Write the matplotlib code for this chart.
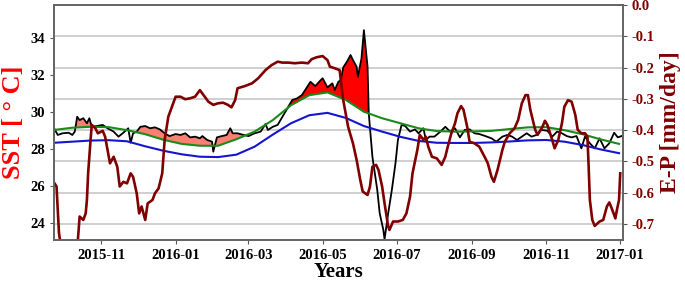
import numpy as np
import matplotlib
matplotlib.use("Agg")
import matplotlib.pyplot as plt
import matplotlib.dates as mdates
import matplotlib.ticker as mticker

plt.rcParams['font.family'] = ['Liberation Serif', 'DejaVu Serif']
plt.rcParams['font.weight'] = 'bold'

start = np.datetime64('2015-09-23')

# climatology (blue) and threshold (green), every 15 days from start
clim_day = np.arange(0, 466, 15)
clim_sst = [28.34, 28.40, 28.46, 28.48, 28.42, 28.15, 27.91, 27.72, 27.59, 27.57,
            27.70, 28.13, 28.78, 29.39, 29.82, 29.95, 29.68, 29.24, 28.94, 28.66,
            28.44, 28.34, 28.33, 28.33, 28.36, 28.41, 28.47, 28.49, 28.40, 28.22,
            27.98, 27.78]
thresh_sst = [29.03, 29.15, 29.20, 29.18, 29.02, 28.80, 28.50, 28.28, 28.18, 28.18,
              28.53, 28.94, 29.56, 30.36, 30.90, 31.05, 30.65, 30.01, 29.66, 29.39,
              29.12, 28.97, 28.94, 28.95, 28.98, 29.08, 29.17, 29.18, 29.02, 28.80,
              28.52, 28.28]

# observed SST (black)
sst_day = [0, 3, 7, 12, 15, 17, 19, 21, 24, 27, 29, 31, 35, 40, 44, 49, 53, 57, 61, 63,
           65, 68, 71, 75, 79, 83, 87, 91, 95, 100, 104, 108, 112, 116, 120, 122, 126, 130, 131, 134,
           138, 142, 145, 147, 151, 156, 160, 165, 170, 174, 176, 180, 184, 188, 192, 196, 200, 204, 207, 211,
           215, 219, 221, 225, 229, 231, 234, 236, 238, 241, 244, 246, 249, 250, 253, 255, 258, 259, 262, 266,
           268, 271, 272, 275, 278, 281, 283, 286, 289, 293, 297, 300, 304, 306, 309, 313, 318, 322, 326, 330,
           334, 338, 342, 346, 350, 355, 360, 364, 369, 373, 377, 381, 385, 389, 393, 397, 401, 406, 410, 414,
           418, 422, 426, 430, 434, 437, 441, 445, 449, 453, 457, 461, 464, 467]
sst_obs = [29.12, 28.76, 28.85, 28.88, 28.76, 28.94, 29.74, 29.56, 29.66, 29.39, 29.66, 29.20, 29.24, 29.30, 29.12, 28.94, 28.67, 28.88, 29.12, 28.34,
           28.85, 28.94, 29.20, 29.24, 29.12, 29.17, 29.06, 28.85, 28.70, 28.81, 28.76, 28.85, 28.63, 28.67, 28.58, 28.70, 28.49, 28.40, 27.86, 28.63,
           28.70, 28.76, 29.12, 28.85, 28.85, 28.76, 28.70, 28.85, 28.94, 29.35, 29.03, 29.20, 29.30, 29.74, 30.19, 30.64, 30.73, 30.91, 31.21, 31.62,
           31.39, 31.68, 31.81, 31.32, 31.54, 31.18, 31.62, 31.72, 32.40, 32.70, 33.06, 32.79, 32.43, 31.89, 32.88, 34.40, 32.43, 29.92, 27.59, 25.80,
           24.55, 23.65, 23.15, 24.55, 25.80, 27.24, 28.49, 29.30, 29.24, 28.94, 29.06, 28.85, 29.12, 28.49, 28.67, 28.67, 28.94, 29.20, 28.94, 29.12,
           28.63, 29.03, 29.06, 28.85, 28.81, 28.70, 28.58, 28.40, 28.67, 28.76, 28.67, 28.49, 28.67, 28.85, 28.67, 28.76, 29.03, 28.99, 28.67, 28.94,
           28.85, 28.70, 28.63, 28.70, 28.04, 28.67, 28.31, 28.04, 28.58, 28.04, 28.31, 28.88, 28.63, 28.70]

# E-P (maroon, right axis)
ep_day = [0, 2, 4, 6, 12, 19, 21, 24, 26, 27, 28, 30, 31, 34, 36, 40, 42, 44, 46, 49,
          52, 54, 57, 60, 63, 65, 68, 70, 72, 75, 77, 81, 83, 86, 89, 91, 94, 97, 100, 104,
          108, 112, 116, 120, 123, 127, 131, 135, 139, 143, 146, 149, 151, 157, 163, 168, 174, 179, 184, 188,
          193, 198, 204, 209, 212, 216, 221, 225, 227, 231, 235, 238, 242, 246, 249, 252, 254, 258, 260, 262,
          265, 267, 270, 272, 275, 276, 279, 283, 287, 290, 293, 295, 299, 301, 304, 306, 308, 311, 315, 319,
          322, 324, 327, 330, 332, 335, 337, 340, 342, 346, 350, 355, 357, 360, 362, 365, 369, 371, 375, 379,
          382, 385, 388, 390, 392, 396, 398, 402, 404, 406, 410, 412, 415, 418, 420, 423, 426, 429, 431, 434,
          437, 439, 440, 441, 443, 445, 449, 452, 455, 457, 459, 462, 463, 465, 466]
ep = [-0.568, -0.580, -0.729, -0.780, -0.800, -0.780, -0.676, -0.687, -0.666, -0.623, -0.538, -0.431, -0.383, -0.394, -0.410, -0.402, -0.421, -0.463, -0.506, -0.485,
      -0.517, -0.580, -0.565, -0.570, -0.538, -0.549, -0.602, -0.666, -0.644, -0.687, -0.634, -0.623, -0.602, -0.586, -0.538, -0.431, -0.357, -0.325, -0.293, -0.293,
      -0.301, -0.298, -0.293, -0.272, -0.288, -0.309, -0.319, -0.314, -0.312, -0.319, -0.327, -0.304, -0.266, -0.259, -0.250, -0.234, -0.208, -0.192, -0.181, -0.184,
      -0.184, -0.186, -0.184, -0.186, -0.173, -0.167, -0.163, -0.176, -0.197, -0.202, -0.208, -0.304, -0.389, -0.442, -0.495, -0.559, -0.596, -0.607, -0.580, -0.517,
      -0.511, -0.527, -0.580, -0.634, -0.708, -0.719, -0.692, -0.692, -0.687, -0.666, -0.612, -0.538, -0.463, -0.415, -0.431, -0.421, -0.453, -0.485, -0.490, -0.511,
      -0.485, -0.453, -0.410, -0.378, -0.346, -0.323, -0.335, -0.389, -0.437, -0.442, -0.453, -0.490, -0.506, -0.549, -0.565, -0.527, -0.463, -0.437, -0.410, -0.394,
      -0.367, -0.314, -0.288, -0.288, -0.335, -0.399, -0.415, -0.389, -0.370, -0.383, -0.431, -0.458, -0.431, -0.378, -0.325, -0.304, -0.309, -0.351, -0.399, -0.410,
      -0.410, -0.421, -0.517, -0.623, -0.687, -0.706, -0.692, -0.687, -0.644, -0.631, -0.650, -0.682, -0.660, -0.623, -0.538]

ep_ticks = [-0.7, -0.6, -0.5, -0.4, -0.3, -0.2, -0.1, 0.0]

clim_t = start + clim_day.astype('timedelta64[D]')
sst_t = start + np.array(sst_day).astype('timedelta64[D]')
ep_t = start + np.array(ep_day).astype('timedelta64[D]')
sst_obs = np.array(sst_obs)
thr_at_obs = np.interp(sst_day, clim_day, thresh_sst)
sd = np.array(sst_day)

fig = plt.figure(figsize=(6.85, 2.81), dpi=100)
pos = [0.079, 0.146, 0.830, 0.836]
axg = fig.add_axes(pos)
ax1 = fig.add_axes(pos, sharex=axg)
ax2 = ax1.twinx()
axg.set_zorder(0)
ax1.set_zorder(1)
ax2.set_zorder(2)
ax1.patch.set_visible(False)
ax2.patch.set_visible(False)

# grid follows the E-P ticks, drawn behind everything
axg.set_ylim(-0.751, 0.0)
axg.set_yticks(ep_ticks)
axg.grid(axis='y', color='#cccccc', lw=1.3)
axg.tick_params(left=False, labelleft=False, bottom=False, labelbottom=False)
for s in axg.spines.values():
    s.set_visible(False)

mhw = (sd >= 170) & (sd <= 265)
ax1.fill_between(sst_t, sst_obs, thr_at_obs, where=(sst_obs > thr_at_obs) & ~mhw & (sd < 265),
                 color='salmon', interpolate=True, lw=0)
ax1.fill_between(sst_t, sst_obs, thr_at_obs, where=(sst_obs > thr_at_obs) & mhw,
                 color='red', interpolate=True, lw=0)
ax1.plot(sst_t, sst_obs, color='black', lw=1.3)
ax1.plot(clim_t, clim_sst, color='#1515d0', lw=1.5)
ax1.plot(clim_t, thresh_sst, color='#1a8a1a', lw=1.5)
ax1.set_ylim(23.11, 35.75)
ax1.set_yticks([24, 26, 28, 30, 32, 34])
ax1.set_xlim(start, start + np.timedelta64(468, 'D'))
ax1.xaxis.set_major_locator(mdates.MonthLocator(bymonth=[1, 3, 5, 7, 9, 11]))
ax1.xaxis.set_major_formatter(mdates.DateFormatter('%Y-%m'))
ax1.tick_params(axis='both', labelsize=10.5, colors='#555555', labelcolor='black', length=3)
ax1.set_ylabel('SST [ ° C]', color='red', fontsize=19, fontweight='bold', labelpad=4)
ax1.set_xlabel('Years', fontsize=15, fontweight='bold', labelpad=0)

ax2.plot(ep_t, ep, color='#800000', lw=1.9)
ax2.set_ylim(-0.751, 0.0)
ax2.set_yticks(ep_ticks)
ax2.yaxis.set_major_formatter(mticker.FormatStrFormatter('%.1f'))
ax2.tick_params(axis='y', labelsize=10.5, colors='#555555', labelcolor='#800000', length=3)
ax2.set_ylabel('E-P [mm/day]', color='#800000', fontsize=17, fontweight='bold', labelpad=4)

for a in (ax1, ax2):
    for s in a.spines.values():
        s.set_color('#666666')
        s.set_linewidth(1.3)

fig.savefig('out.png', dpi=100)
